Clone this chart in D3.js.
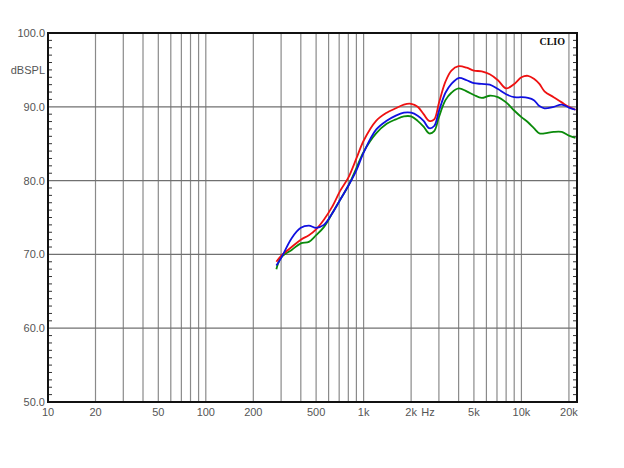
<!DOCTYPE html>
<html>
<head>
<meta charset="utf-8">
<script src="https://cdn.jsdelivr.net/npm/d3@7"></script>
<style>
html,body{margin:0;padding:0;background:#fff;}
svg{display:block;}
</style>
</head>
<body>
<svg id="chart" width="624" height="468"></svg>
<script>
// ---- data ----
const freqs = [280,300,350,400,450,500,560,630,710,800,900,1000,1200,1400,1600,1800,2000,2200,2400,2600,2800,3000,3300,3600,4000,4500,5000,5600,6300,7100,8000,9000,10000,11000,12000,13000,14000,16000,18000,20000,22000];
const redDb   = [69.0,69.8,71.0,72.0,72.6,73.4,74.7,76.4,78.6,80.4,83.0,85.4,88.1,89.2,89.8,90.3,90.4,90.0,89.0,88.1,88.3,90.5,93.4,94.9,95.5,95.3,94.9,94.8,94.4,93.6,92.5,93.1,94.0,94.2,93.8,93.1,92.1,91.3,90.6,90.0,89.6];
const blueDb  = [68.5,69.5,72.2,73.6,73.9,73.6,74.0,75.5,77.4,79.3,81.4,83.8,86.9,88.1,88.8,89.2,89.2,88.8,88.1,87.1,87.4,89.4,91.9,93.1,93.9,93.6,93.2,93.1,93.0,92.4,91.7,91.3,91.3,91.2,90.9,90.1,89.8,90.0,90.3,89.9,89.6];
const greenDb = [68.0,69.6,70.6,71.5,71.7,72.6,73.7,75.5,77.4,79.3,81.7,83.9,86.4,87.7,88.3,88.7,88.7,88.1,87.3,86.4,86.7,88.6,90.9,91.9,92.5,92.1,91.6,91.2,91.5,91.3,90.6,89.5,88.6,87.9,87.1,86.4,86.4,86.6,86.6,86.1,85.8];
const xTickValues = [10,20,50,100,200,500,1000,2000,5000,10000,20000];
const xTickLabels = ["10","20","50","100","200","500","1k","2k","5k","10k","20k"];
const yTickValues = [50,60,70,80,90,100];
const yTickLabels = ["50.0","60.0","70.0","80.0","90.0","100.0"];

// ---- layout ----
const svg = d3.select("#chart");
const L = 48, R = 577, T = 33, B = 402;
const x = d3.scaleLog().domain([10, 22500]).range([L, R]);
const y = d3.scaleLinear().domain([50, 100]).range([B, T]);

// vertical grid lines 1..9 per decade
const vGrid = [];
for (let d = 10; d <= 10000; d *= 10) {
  for (let m = 1; m <= 9; m++) { const v = d * m; if (v > 10 && v < 22500) vGrid.push(v); }
}
vGrid.push(20000);
const uniqV = Array.from(new Set(vGrid));
svg.append("g").selectAll("line").data(uniqV).join("line")
  .attr("x1", d => x(d)).attr("x2", d => x(d))
  .attr("y1", T).attr("y2", B)
  .attr("stroke", "#8a8a8a").attr("stroke-width", 1.2);

// horizontal grid
svg.append("g").selectAll("line").data(yTickValues.filter(v => v > 50 && v < 100)).join("line")
  .attr("x1", L).attr("x2", R)
  .attr("y1", d => y(d)).attr("y2", d => y(d))
  .attr("stroke", "#707070").attr("stroke-width", 1.2);

// minor ticks every 1 dB on left and right
const minor = d3.range(51, 100).filter(v => v % 10 !== 0);
svg.append("g").selectAll("line").data(minor).join("line")
  .attr("x1", L).attr("x2", L + 4)
  .attr("y1", d => y(d)).attr("y2", d => y(d))
  .attr("stroke", "#333").attr("stroke-width", 1);
svg.append("g").selectAll("line").data(minor).join("line")
  .attr("x1", R - 4).attr("x2", R)
  .attr("y1", d => y(d)).attr("y2", d => y(d))
  .attr("stroke", "#333").attr("stroke-width", 1);

// curves
const line = d3.line()
  .x((d, i) => x(freqs[i]))
  .y(d => y(d))
  .curve(d3.curveCatmullRom.alpha(0.5));
const clip = svg.append("clipPath").attr("id", "clip").append("rect")
  .attr("x", L).attr("y", T).attr("width", R - L).attr("height", B - T);
const curves = [
  {vals: greenDb, color: "#0a8a0a"},
  {vals: redDb, color: "#ee1111"},
  {vals: blueDb, color: "#1010e0"}
];
svg.append("g").attr("clip-path", "url(#clip)").selectAll("path").data(curves).join("path")
  .attr("d", d => line(d.vals))
  .attr("fill", "none")
  .attr("stroke", d => d.color)
  .attr("stroke-width", 1.8);

// frame
svg.append("rect").attr("x", L).attr("y", T).attr("width", R - L).attr("height", B - T)
  .attr("fill", "none").attr("stroke", "#111").attr("stroke-width", 2);

// axis labels
const font = "Liberation Sans, Arial, sans-serif";
svg.append("g").selectAll("text").data(yTickValues).join("text")
  .attr("x", L - 3).attr("y", d => y(d) + 4)
  .attr("text-anchor", "end")
  .attr("font-family", font).attr("font-size", 11).attr("fill", "#555")
  .text((d, i) => yTickLabels[i]);
svg.append("g").selectAll("text").data(xTickValues).join("text")
  .attr("x", d => x(d)).attr("y", B + 14)
  .attr("text-anchor", "middle")
  .attr("font-family", font).attr("font-size", 11).attr("fill", "#555")
  .text((d, i) => xTickLabels[i]);
svg.append("text").attr("x", L - 3).attr("y", 74).attr("text-anchor", "end")
  .attr("font-family", font).attr("font-size", 11).attr("fill", "#555").text("dBSPL");
svg.append("text").attr("x", 428).attr("y", B + 14).attr("text-anchor", "middle")
  .attr("font-family", font).attr("font-size", 11).attr("fill", "#555").text("Hz");
svg.append("text").attr("x", 565).attr("y", 45).attr("text-anchor", "end")
  .attr("font-family", "Liberation Serif, Times New Roman, serif").attr("font-weight", "bold")
  .attr("font-size", 10).attr("fill", "#111").text("CLIO");
</script>
</body>
</html>
